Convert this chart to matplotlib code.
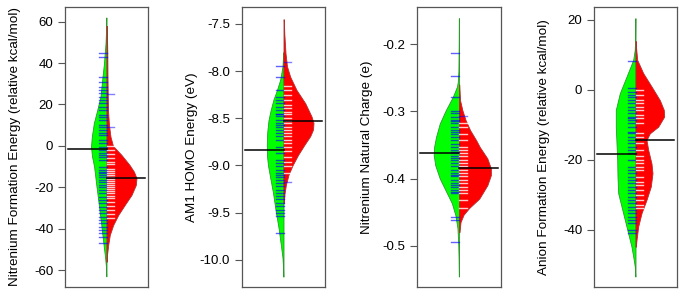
import numpy as np
import matplotlib.pyplot as plt

plt.rcParams['font.family'] = ['Liberation Sans', 'DejaVu Sans']

# ---- panel 1: nitrenium formation energy ----
p1_label = "Nitrenium Formation Energy (relative kcal/mol)"
p1_ylim = (-68.2, 67.1)
p1_yticks = [60, 40, 20, 0, -20, -40, -60]
p1_green_y = [62, 55, 49.5, 40, 33.4, 23.8, 17.3, 10.9, 4.4, -0.4, -5, -10, -19.7, -29.4, -39, -48.7, -53.5, -58, -63]
p1_green_w = [0.3, 0.5, 1, 2.5, 4, 6, 9.3, 12.7, 14.7, 15.5, 14.5, 12.4, 10, 7.4, 5, 2.7, 1.5, 0.6, 0.3]
p1_red_y = [58, 45, 33, 25, 17.3, 10, 4.4, 0, -4.4, -9.2, -12.5, -15.6, -18.9, -23.7, -28.5, -33.4, -38.2, -43, -47.9, -52.7, -56]
p1_red_w = [0.3, 0.8, 1.0, 1.2, 1.5, 2.5, 4, 6.5, 15, 23, 27.5, 30, 29.3, 25, 18.3, 11.7, 6.7, 3.3, 1.7, 0.5, 0.2]
p1_green_mean = -1.5
p1_red_mean = -15.4
p1_green_ticks = [45.0, 43.1, 33.4, 31.0, 28.3, 27.0, 25.4, 23.8, 22.2, 20.5, 18.9, 17.3, 14.9, 14.1, 12.5,
                  10.1, 9.3, 7.7, 6.1, 5.3, 2.8, 1.2, -0.4, -2.0, -3.6, -4.4, -5.2, -6.8, -10.0, -11.7,
                  -12.5, -13.3, -14.1, -14.9, -16.5, -17.3, -18.9, -19.7, -21.3, -22.9, -24.5, -26.2,
                  -27.8, -29.4, -31.0, -32.6, -34.2, -35.8, -37.4, -39.0, -40.6, -42.3, -43.9, -47.1]
p1_red_ticks = [0, -2, -4, -6, -8, -9, -11, -12, -13, -14, -15, -16, -17, -18, -19, -20, -21, -22, -23,
                -24, -25, -27, -29, -31, -33, -35]
p1_red_out = [25, 9.3]

# ---- panel 2: AM1 HOMO energy ----
p2_label = "AM1 HOMO Energy (eV)"
p2_ylim = (-10.29, -7.32)
p2_yticks = [-7.5, -8.0, -8.5, -9.0, -9.5, -10.0]
p2_green_y = [-7.8, -7.95, -8.09, -8.2, -8.30, -8.42, -8.52, -8.65, -8.78, -8.9, -9.0, -9.13, -9.29, -9.49, -9.66, -9.84, -9.98, -10.1, -10.18]
p2_green_w = [0.3, 1, 3.3, 6.5, 10, 13, 15, 16.3, 16.7, 16.5, 15.5, 13.3, 10.5, 7.7, 5, 2.7, 1, 0.4, 0.2]
p2_red_y = [-7.45, -7.6, -7.81, -7.95, -8.06, -8.20, -8.34, -8.48, -8.55, -8.62, -8.69, -8.78, -8.89, -9.0, -9.1, -9.2, -9.3, -9.4]
p2_red_w = [0.3, 0.8, 2, 3.5, 6.7, 13, 21.7, 28, 30, 29.5, 26.7, 21, 14.5, 9, 5, 2.5, 1, 0.3]
p2_green_mean = -8.835
p2_red_mean = -8.524
p2_green_ticks = [-7.95, -8.06, -9.72, -8.20, -8.27, -8.31, -8.34, -8.38, -8.41, -8.45, -8.46, -8.48, -8.52,
                  -8.55, -8.57, -8.59, -8.62, -8.66, -8.69, -8.73, -8.80, -8.87, -8.94, -8.98, -9.01,
                  -9.05, -9.08, -9.10, -9.12, -9.15, -9.19, -9.22, -9.26, -9.29, -9.33, -9.36, -9.40,
                  -9.43, -9.47, -9.51, -9.54]
p2_red_ticks = [-8.16, -8.20, -8.25, -8.31, -8.36, -8.39, -8.43, -8.46, -8.50, -8.53, -8.55, -8.59, -8.62,
                -8.66, -8.69, -8.73, -8.76, -8.80, -8.85, -8.91, -8.96, -9.01, -9.08]
p2_red_out = [-7.90, -9.18]

# ---- panel 3: nitrenium natural charge ----
p3_label = "Nitrenium Natural Charge (e)"
p3_ylim = (-0.5617, -0.1444)
p3_yticks = [-0.2, -0.3, -0.4, -0.5]
p3_green_y = [-0.161, -0.2, -0.24, -0.256, -0.263, -0.278, -0.298, -0.318, -0.338, -0.352, -0.365, -0.380, -0.400, -0.417, -0.437, -0.455, -0.474, -0.5, -0.52, -0.546]
p3_green_w = [0.2, 0.3, 0.6, 1.2, 2, 6, 13, 19, 22.7, 24.5, 25, 23.5, 19, 13.5, 7, 3.5, 1.5, 0.7, 0.4, 0.2]
p3_red_y = [-0.26, -0.283, -0.298, -0.313, -0.328, -0.343, -0.353, -0.370, -0.385, -0.395, -0.410, -0.430, -0.444, -0.454, -0.465, -0.48]
p3_red_w = [0.3, 1, 3.3, 6.5, 11, 17, 20.5, 28, 31.5, 31.5, 28, 20, 10, 4.5, 1.5, 0.5]
p3_green_mean = -0.3624
p3_red_mean = -0.3838
p3_green_ticks = [-0.213, -0.247, -0.278, -0.457, -0.462, -0.494, -0.300, -0.303, -0.308, -0.313, -0.315,
                  -0.318, -0.323, -0.328, -0.330, -0.333, -0.338, -0.343, -0.348, -0.353, -0.357, -0.360,
                  -0.362, -0.367, -0.370, -0.372, -0.377, -0.382, -0.387, -0.392, -0.395, -0.397, -0.402,
                  -0.407, -0.410, -0.412, -0.417, -0.420, -0.422]
p3_red_ticks = [-0.318, -0.323, -0.333, -0.343, -0.353, -0.357, -0.362, -0.367, -0.372, -0.377, -0.382,
                -0.387, -0.392, -0.397, -0.402, -0.407, -0.412, -0.417, -0.422, -0.432, -0.444]
p3_red_out = [-0.307]

# ---- panel 4: anion formation energy ----
p4_label = "Anion Formation Energy (relative kcal/mol)"
p4_ylim = (-56.3, 23.7)
p4_yticks = [20, 0, -20, -40]
p4_green_y = [20.5, 14, 11.4, 8.6, 3.8, -0.95, -5.7, -10.5, -15.2, -20, -24.8, -29.5, -33.3, -37.1, -41, -44.8, -48.6, -50.5, -53.3]
p4_green_w = [0.2, 0.4, 0.8, 2.3, 9, 15.7, 19.7, 19.7, 19, 18.3, 18, 17.3, 14, 10.7, 7.3, 4, 1.7, 0.7, 0.2]
p4_red_y = [14, 12.4, 8.6, 4.8, 1, -2.9, -5.7, -7.6, -10.5, -12.4, -14.3, -17.1, -21, -23.8, -27.6, -31.4, -35.2, -39, -42.9, -44.8]
p4_red_w = [0.2, 0.5, 1.7, 7.7, 16, 24.3, 28.3, 28.7, 22.7, 14.3, 11, 12.7, 16, 17, 15.3, 11, 6, 2.7, 1, 0.3]
p4_green_mean = -18.3
p4_red_mean = -14.3
p4_green_ticks = [8.3, 0.5, -0.5, -1.4, -1.9, -2.9, -3.8, -4.8, -5.7, -6.7, -7.6, -8.1, -8.6, -9.5, -10.5,
                  -11.9, -12.4, -13.3, -14.3, -15.2, -16.2, -17.1, -18.1, -20, -21.9, -22.9, -23.8,
                  -24.8, -25.7, -26.7, -27.6, -28.6, -29.5, -30.5, -31.4, -32.4, -33.3, -34.3, -35.2,
                  -36.2, -37.1, -38.1, -40, -41]
p4_red_ticks = [0, -1.4, -2.9, -3.8, -4.8, -5.7, -7.1, -8.1, -9.5, -12.4, -13.3, -15.2, -17.1, -19, -20,
                -21, -21.9, -22.9, -24.8, -26.2, -27.1, -28.6, -30, -31.4, -32.9, -33.8]
p4_red_out = []

panels = [
    (p1_label, p1_ylim, p1_yticks, p1_green_y, p1_green_w, p1_red_y, p1_red_w,
     p1_green_mean, p1_red_mean, p1_green_ticks, p1_red_ticks, p1_red_out),
    (p2_label, p2_ylim, p2_yticks, p2_green_y, p2_green_w, p2_red_y, p2_red_w,
     p2_green_mean, p2_red_mean, p2_green_ticks, p2_red_ticks, p2_red_out),
    (p3_label, p3_ylim, p3_yticks, p3_green_y, p3_green_w, p3_red_y, p3_red_w,
     p3_green_mean, p3_red_mean, p3_green_ticks, p3_red_ticks, p3_red_out),
    (p4_label, p4_ylim, p4_yticks, p4_green_y, p4_green_w, p4_red_y, p4_red_w,
     p4_green_mean, p4_red_mean, p4_green_ticks, p4_red_ticks, p4_red_out),
]
tick_fmts = ["{:.0f}", "{:.1f}", "{:.1f}", "{:.0f}"]

lefts = [65, 242, 417, 594]
widths = [83, 83, 84, 83]
W, H = 685, 297
wscale = 1 / 83.0   # density widths were read in pixels
tick_len = 0.09

fig = plt.figure(figsize=(W / 100, H / 100), dpi=100)

for (label, ylim, yticks, gy, gw, ry, rw, gmean, rmean, gticks, rticks, rout), fmt, l, w in zip(panels, tick_fmts, lefts, widths):
    ax = fig.add_axes([l / W, 1 - 287 / H, w / W, 280 / H])
    gy = np.array(gy)
    ry = np.array(ry)
    gw = np.array(gw) * wscale
    rw = np.array(rw) * wscale
    ax.fill_betweenx(gy, -gw, 0, facecolor="#00ff00", edgecolor="#2a9a2a", linewidth=0.6, zorder=2)
    ax.fill_betweenx(ry, 0, rw, facecolor="#ff0000", edgecolor="#b03030", linewidth=0.6, zorder=2)
    for v in gticks:
        ax.plot([-tick_len, 0], [v, v], color="#0000ff", alpha=0.62, lw=1.0, zorder=3)
    for v in rticks:
        ax.plot([0, tick_len], [v, v], color="white", alpha=0.8, lw=1.0, zorder=3)
    for v in rout:
        ax.plot([0, tick_len], [v, v], color="#0000ff", alpha=0.5, lw=1.0, zorder=3)
    ax.plot([-0.46, 0], [gmean, gmean], color="black", lw=1.1, zorder=4)
    ax.plot([0, 0.46], [rmean, rmean], color="black", lw=1.1, zorder=4)
    ax.set_xlim(-0.5, 0.5)
    ax.set_ylim(*ylim)
    ax.set_yticks(yticks)
    ax.set_yticklabels([fmt.format(t) for t in yticks])
    ax.set_xticks([])
    ax.tick_params(axis="y", labelsize=9.5, length=5, width=0.8, color="#555555", pad=3.5)
    ax.set_ylabel(label, fontsize=9.7)
    ax.yaxis.set_label_coords(-44 / w, 0.5)
    for s in ax.spines.values():
        s.set_color("#555555")
        s.set_linewidth(0.9)

fig.savefig("out.png", dpi=100)
